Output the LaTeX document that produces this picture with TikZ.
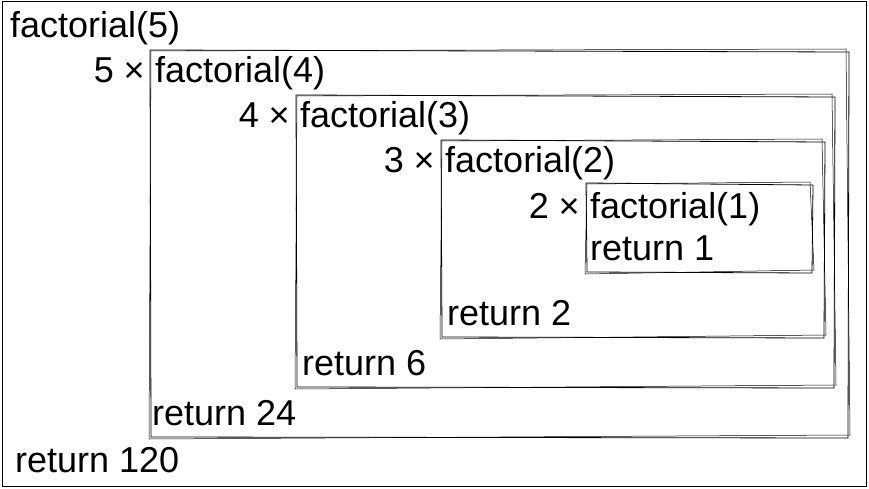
\documentclass[tikz,border=0pt]{standalone}
\usepackage{fontspec}
\setmainfont{Liberation Sans}
\begin{document}
\begin{tikzpicture}[x=1pt,y=-1pt,
  t/.style={anchor=base west,inner sep=0pt,font=\fontsize{36}{40}\selectfont},
  m/.style={anchor=base east,inner sep=0pt,font=\fontsize{36}{40}\selectfont},
  sk/.style={line width=0.8pt,black}]
\useasboundingbox (0,0) rectangle (869,489);
\draw[line width=1pt] (2,2) rectangle (866,486);
% sketchy boxes
\foreach \a/\b/\c/\d in {150/50/848/437, 296/95/834/387, 441/140/824/337, 586/183/812/272}{
  \draw[sk] (\a,\b) -- (\c+1,\b+2) -- (\c,\d+1) -- (\a+1,\d) -- cycle;
  \draw[sk,line width=0.5pt] (\a+1,\b+1) -- (\c-2,\b-1) -- (\c+2,\d-2) -- (\a-1,\d+2) -- (\a+1,\b+1);
}
\node[t] (f5) at (10,38) {factorial(5)};
\node[m] (m5) at (145,83) {5 ×};
\node[t] (f4) at (155,83) {factorial(4)};
\node[m] (m4) at (290,128) {4 ×};
\node[t] (f3) at (300,128) {factorial(3)};
\node[m] (m3) at (435,172) {3 ×};
\node[t] (f2) at (445,172) {factorial(2)};
\node[m] (m2) at (580,218) {2 ×};
\node[t] (f1) at (590,218) {factorial(1)};
\node[t] (r1) at (590,260) {return 1};
\node[t] (r2) at (447,325) {return 2};
\node[t] (r6) at (302,375) {return 6};
\node[t] (r24) at (152,425) {return 24};
\node[t] (r120) at (15,472) {return 120};
\end{tikzpicture}
\end{document}
